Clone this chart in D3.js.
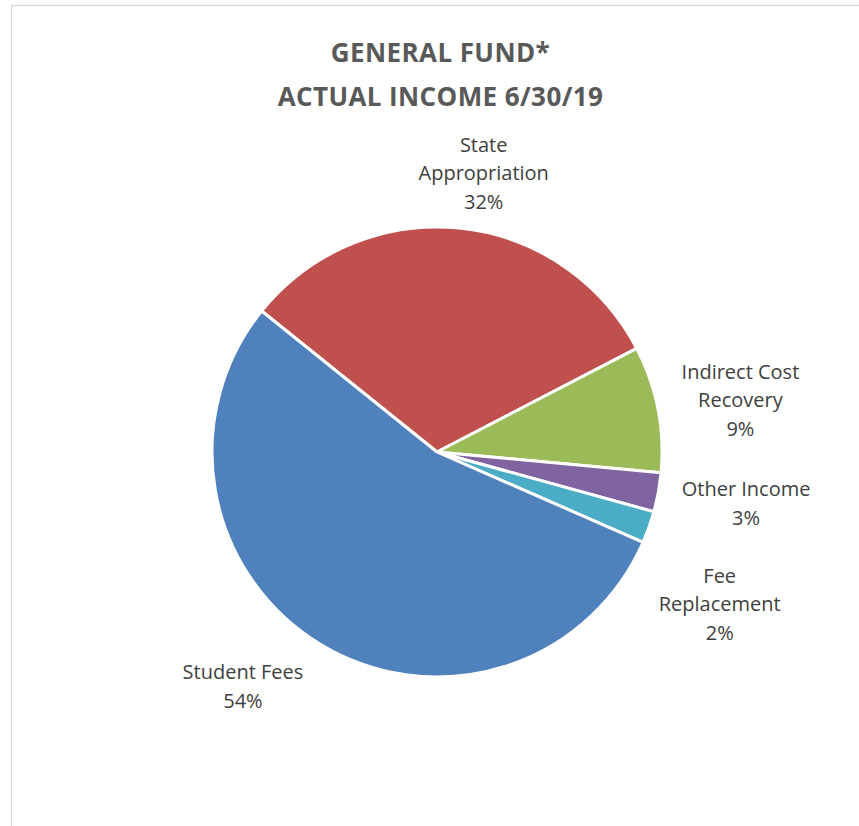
<!DOCTYPE html>
<html>
<head>
<meta charset="utf-8">
<script src="https://cdn.jsdelivr.net/npm/d3@7/dist/d3.min.js"></script>
<style>
  html, body { margin: 0; padding: 0; background: #fff; }
  svg { display: block; }
</style>
</head>
<body>
<svg id="chart" width="859" height="826"></svg>
<script>
// Income sources, in drawing order (clockwise)
const categories = ["State Appropriation", "Indirect Cost Recovery", "Other Income", "Fee Replacement", "Student Fees"];
const values = [31.6, 9.1, 2.8, 2.3, 54.2];
const percentLabels = ["32%", "9%", "3%", "2%", "54%"];
const labelLines = [["State", "Appropriation"], ["Indirect Cost", "Recovery"], ["Other Income"], ["Fee", "Replacement"], ["Student Fees"]];
const colors = ["#C0504D", "#9BBB59", "#8064A2", "#4BACC6", "#4F81BD"];
const titleLines = ["GENERAL FUND*", "ACTUAL INCOME 6/30/19"];

const W = 859, H = 826;
const cx = 437, cy = 452, r = 225;
const labelRadius = 300;
// small nudges of each label away from its slice direction
const labelNudge = {
  "State Appropriation": [17, 20],
  "Indirect Cost Recovery": [9, 6],
  "Other Income": [14, -2.5],
  "Fee Replacement": [0, 52],
  "Student Fees": [-38.5, -22]
};

const svg = d3.select("#chart");

// chart area frame
svg.append("rect")
  .attr("x", 11.5).attr("y", 5.5)
  .attr("width", W).attr("height", H)
  .attr("fill", "#fff")
  .attr("stroke", "#d9d9d9")
  .attr("stroke-width", 1.3);

// title
svg.append("text")
  .attr("x", 440.5).attr("y", 62)
  .attr("text-anchor", "middle")
  .attr("font-family", "'Open Sans', sans-serif")
  .attr("font-weight", "bold")
  .attr("font-size", 26)
  .attr("letter-spacing", 0.4)
  .attr("fill", "#595959")
  .selectAll("tspan")
  .data(titleLines)
  .join("tspan")
  .attr("x", 440.5)
  .attr("dy", (d, i) => i === 0 ? 0 : 43.5)
  .text(d => d);

const startA = 308.8 * Math.PI / 180;
const pie = d3.pie().sort(null).value(d => d.value)
  .startAngle(startA).endAngle(startA + 2 * Math.PI);

const data = categories.map((c, i) => ({
  name: c, value: values[i], pct: percentLabels[i], lines: labelLines[i], color: colors[i]
}));
const arcs = pie(data);

const arc = d3.arc().innerRadius(0).outerRadius(r);
const labelArc = d3.arc().innerRadius(labelRadius).outerRadius(labelRadius);

const g = svg.append("g").attr("transform", `translate(${cx},${cy})`);

g.selectAll("path")
  .data(arcs)
  .join("path")
  .attr("d", arc)
  .attr("fill", d => d.data.color)
  .attr("stroke", "#fff")
  .attr("stroke-width", 3)
  .attr("stroke-linejoin", "round");

// data labels: category name lines followed by the percentage
const lineH = 28.5;
g.selectAll("text.lbl")
  .data(arcs)
  .join("text")
  .attr("class", "lbl")
  .attr("text-anchor", "middle")
  .attr("font-family", "'Open Sans', sans-serif")
  .attr("font-size", 20)
  .attr("fill", "#404040")
  .each(function(d) {
    const [px, py] = labelArc.centroid(d);
    const [nx, ny] = labelNudge[d.data.name];
    const lines = d.data.lines.concat([d.data.pct]);
    const x = px + nx;
    const yCenter = py + ny;
    const y0 = yCenter - (lines.length - 1) * lineH / 2;
    d3.select(this).selectAll("tspan")
      .data(lines)
      .join("tspan")
      .attr("x", x)
      .attr("y", (t, i) => y0 + i * lineH)
      .attr("dy", "0.35em")
      .text(t => t);
  });
</script>
</body>
</html>
